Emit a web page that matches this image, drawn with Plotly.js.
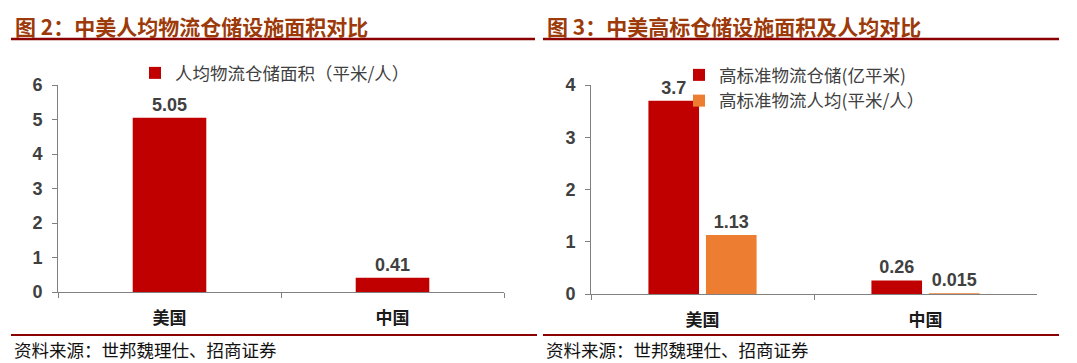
<!DOCTYPE html>
<html>
<head>
<meta charset="utf-8">
<script src="https://cdn.plot.ly/plotly-3.0.1.min.js"></script>
<style>
html,body{margin:0;padding:0;background:#fff;}
#chart{width:1077px;height:363px;}
</style>
</head>
<body>
<div id="chart"></div>
<script>
// ---- data ----
const categories = ['美国', '中国'];
const perCapitaArea = [5.05, 0.41];           // 人均物流仓储面积（平米/人）
const highStdArea = [3.7, 0.26];              // 高标准物流仓储(亿平米)
const highStdPerCapita = [1.13, 0.015];       // 高标准物流人均(平米/人）
const seriesNames = ['人均物流仓储面积（平米/人）', '高标准物流仓储(亿平米)', '高标准物流人均(平米/人）'];
const leftTicks = [0, 1, 2, 3, 4, 5, 6];
const rightTicks = [0, 1, 2, 3, 4];
const titles = ['图 2：中美人均物流仓储设施面积对比', '图 3：中美高标仓储设施面积及人均对比'];
const sourceText = '资料来源：世邦魏理仕、招商证券';

const W = 1077, H = 363;
const px = v => v / W;
const py = v => 1 - v / H;

const RED = '#C00000', ORANGE = '#ED7D31';
const numFont = {family: 'Liberation Sans, Arial, sans-serif', size: 18, color: '#404040', weight: 'bold'};
const cjk = 'Noto Sans CJK SC, sans-serif';

const traces = [
  {type: 'bar', x: categories, y: perCapitaArea, name: seriesNames[0], xaxis: 'x', yaxis: 'y',
   marker: {color: RED}, width: 0.33, texttemplate: '%{y}', textposition: 'outside',
   textfont: numFont, cliponaxis: false, legend: 'legend', hoverinfo: 'skip'},
  {type: 'bar', x: categories, y: highStdArea, name: seriesNames[1], xaxis: 'x2', yaxis: 'y2',
   marker: {color: RED}, texttemplate: '%{y}', textposition: 'outside',
   textfont: numFont, cliponaxis: false, legend: 'legend2', hoverinfo: 'skip'},
  {type: 'bar', x: categories, y: highStdPerCapita, name: seriesNames[2], xaxis: 'x2', yaxis: 'y2',
   marker: {color: ORANGE}, texttemplate: '%{y}', textposition: 'outside',
   textfont: numFont, cliponaxis: false, legend: 'legend2', hoverinfo: 'skip'}
];

const xCommon = {type: 'category', tickson: 'boundaries', ticks: 'outside', ticklen: 5, tickcolor: '#808080',
  showline: true, linecolor: '#808080', linewidth: 1, showgrid: false, zeroline: false,
  tickfont: {family: cjk, size: 17, color: '#1a1a1a', weight: 'bold'}, ticklabelstandoff: 11,
  range: [-0.5, 1.5], fixedrange: true};
const yCommon = {ticks: 'outside', ticklen: 5, tickcolor: '#808080', showline: true, linecolor: '#808080',
  linewidth: 1, showgrid: false, zeroline: false, tickfont: numFont, ticklabelstandoff: 6, fixedrange: true};

const layout = {
  width: W, height: H, margin: {l: 0, r: 0, t: 0, b: 0},
  paper_bgcolor: '#fff', plot_bgcolor: '#fff',
  barmode: 'group', bargap: 0.484, bargroupgap: 0.12,
  font: {family: 'Liberation Sans, ' + cjk, color: '#404040'},
  showlegend: true,
  xaxis: Object.assign({}, xCommon, {domain: [px(58), px(504)], anchor: 'y'}),
  yaxis: Object.assign({}, yCommon, {domain: [1 - 292 / H, 1 - 85 / H], anchor: 'x', range: [0, 6],
    tickvals: leftTicks}),
  xaxis2: Object.assign({}, xCommon, {domain: [px(591), px(1037)], anchor: 'y2'}),
  yaxis2: Object.assign({}, yCommon, {domain: [1 - 294 / H, 1 - 85 / H], anchor: 'x2', range: [0, 4],
    tickvals: rightTicks}),
  legend: {x: px(135), y: py(55), xanchor: 'left', yanchor: 'top', bgcolor: 'rgba(0,0,0,0)',
    font: {family: cjk, size: 17.5, color: '#404040'}, traceorder: 'normal'},
  legend2: {x: px(679), y: py(57), xanchor: 'left', yanchor: 'top', bgcolor: 'rgba(0,0,0,0)',
    font: {family: cjk, size: 17.5, color: '#404040'}, traceorder: 'normal', tracegroupgap: 0},
  shapes: [
    {type: 'line', xref: 'paper', yref: 'paper', x0: px(11), x1: px(535), y0: py(39), y1: py(39), line: {color: '#8B0000', width: 2.5}},
    {type: 'line', xref: 'paper', yref: 'paper', x0: px(543), x1: px(1059), y0: py(39), y1: py(39), line: {color: '#8B0000', width: 2.5}},
    {type: 'line', xref: 'paper', yref: 'paper', x0: px(11), x1: px(537), y0: py(335), y1: py(335), line: {color: '#8B0000', width: 2}},
    {type: 'line', xref: 'paper', yref: 'paper', x0: px(543), x1: px(1059), y0: py(335), y1: py(335), line: {color: '#8B0000', width: 2}}
  ],
  annotations: [
    {xref: 'paper', yref: 'paper', x: px(13), y: py(26), xanchor: 'left', yanchor: 'middle', showarrow: false,
     text: titles[0], font: {family: cjk, size: 21, color: '#9C3A0A', weight: 'bold'}},
    {xref: 'paper', yref: 'paper', x: px(545), y: py(26), xanchor: 'left', yanchor: 'middle', showarrow: false,
     text: titles[1], font: {family: cjk, size: 21, color: '#9C3A0A', weight: 'bold'}},
    {xref: 'paper', yref: 'paper', x: px(12), y: py(349), xanchor: 'left', yanchor: 'middle', showarrow: false,
     text: sourceText, font: {family: cjk, size: 17.5, color: '#111'}},
    {xref: 'paper', yref: 'paper', x: px(544), y: py(349), xanchor: 'left', yanchor: 'middle', showarrow: false,
     text: sourceText, font: {family: cjk, size: 17.5, color: '#111'}}
  ]
};

Plotly.newPlot('chart', traces, layout, {staticPlot: true, displayModeBar: false});
</script>
</body>
</html>
